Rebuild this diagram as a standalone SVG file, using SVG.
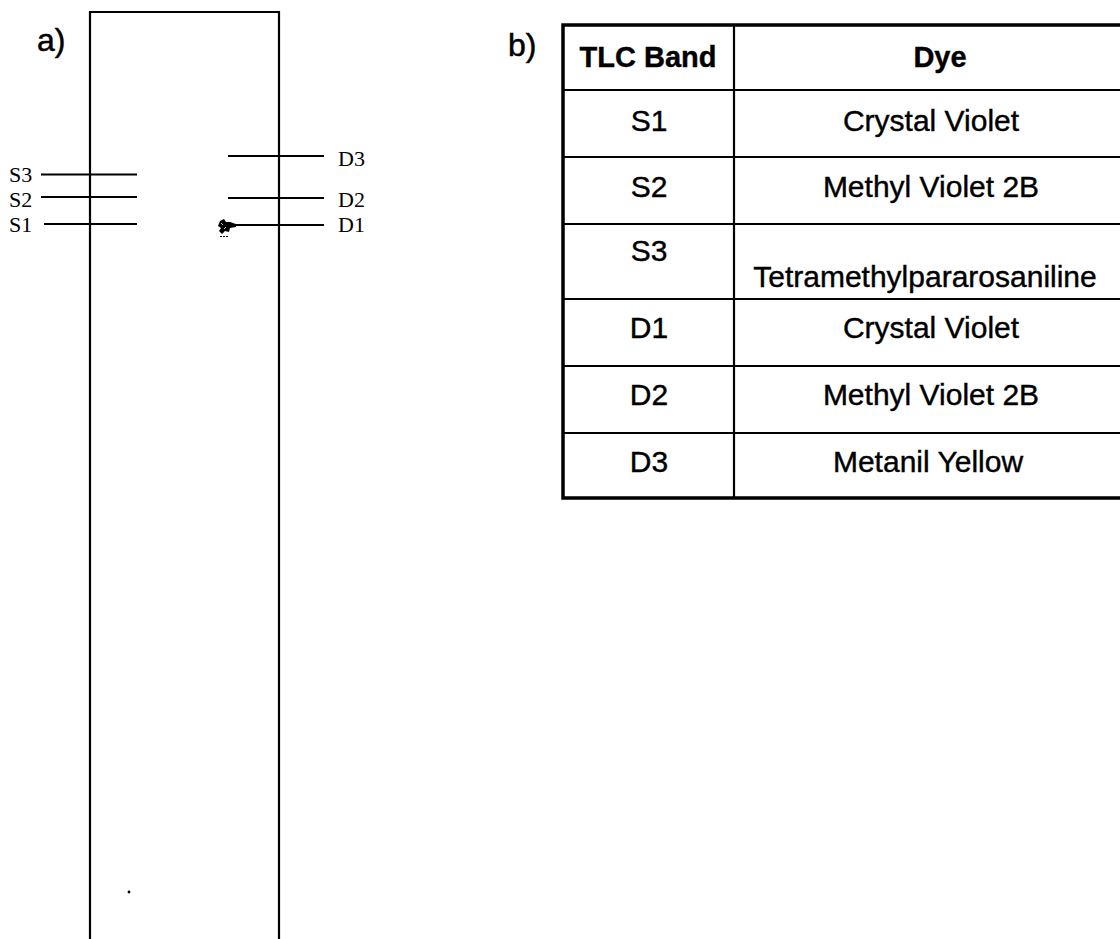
<svg xmlns="http://www.w3.org/2000/svg" width="1120" height="939" viewBox="0 0 1120 939">
<style>
.ln{stroke:#000;stroke-width:2.2;fill:none}
.thick{stroke:#000;stroke-width:3.5;fill:none}
.ser{font-family:"Liberation Serif","Times New Roman",serif;font-size:22px;fill:#000}
.sans{font-family:"Liberation Sans",Arial,sans-serif;fill:#000;stroke:#000;stroke-width:0.5}
.cell{font-family:"Liberation Sans",Arial,sans-serif;font-size:30px;fill:#000;text-anchor:middle;stroke:#000;stroke-width:0.4}
.hdr{font-family:"Liberation Sans",Arial,sans-serif;font-size:29px;font-weight:bold;fill:#000;text-anchor:middle;stroke:#000;stroke-width:0.4}
</style>
<rect width="1120" height="939" fill="#fff"/>
<g id="panel-a">
<text class="sans" x="37" y="51" font-size="32">a)</text>
<g id="plate">
<path class="ln" d="M90,939 V12 H279 V939"/>
<circle cx="129" cy="892" r="1.4" fill="#000"/>
</g>
<g id="connectors">
<line class="ln" x1="41" y1="174.5" x2="137" y2="174.5"/>
<line class="ln" x1="41" y1="197" x2="137" y2="197"/>
<line class="ln" x1="44" y1="224" x2="137" y2="224"/>
<line class="ln" x1="228" y1="156" x2="324" y2="156"/>
<line class="ln" x1="228" y1="198" x2="324" y2="198"/>
<line class="ln" x1="233" y1="225" x2="324" y2="225"/>
</g>
<g id="band-S3"><text class="ser" x="9" y="182">S3</text></g>
<g id="band-S2"><text class="ser" x="9" y="207">S2</text></g>
<g id="band-S1"><text class="ser" x="9" y="232">S1</text></g>
<g id="band-D3"><text class="ser" x="338" y="166">D3</text></g>
<g id="band-D2"><text class="ser" x="338" y="207">D2</text></g>
<g id="band-D1"><text class="ser" x="338" y="232">D1</text></g>
<g id="smudge">
<path d="M220,221 L224,219 L226,222 L230,222 L236,224 L236,227 L230,228 L229,232 L225,231 L222,234 L219,231 L221,228 L218,226 Z" fill="#000"/>
<path d="M221,223 L223,225 M224,229 L226,227" stroke="#fff" stroke-width="0.8"/>
<line x1="220" y1="236.5" x2="229" y2="236.5" stroke="#000" stroke-width="1" stroke-dasharray="2 1"/>
</g>
</g>
<g id="panel-b">
<text class="sans" x="508" y="56" font-size="32">b)</text>
<g id="table-grid">
<path class="thick" d="M1120,25 H563 V498 H1120"/>
<line class="ln" x1="734" y1="25" x2="734" y2="498"/>
<line class="ln" x1="563" y1="90" x2="1120" y2="90"/>
<line class="ln" x1="563" y1="157" x2="1120" y2="157"/>
<line class="ln" x1="563" y1="224" x2="1120" y2="224"/>
<line class="ln" x1="563" y1="299" x2="1120" y2="299"/>
<line class="ln" x1="563" y1="366" x2="1120" y2="366"/>
<line class="ln" x1="563" y1="433" x2="1120" y2="433"/>
</g>
<g id="row-header">
<text class="hdr" x="648" y="67">TLC Band</text>
<text class="hdr" x="940" y="67">Dye</text>
</g>
<g id="row-S1">
<text class="cell" x="649" y="131">S1</text>
<text class="cell" x="931" y="131">Crystal Violet</text>
</g>
<g id="row-S2">
<text class="cell" x="649" y="197">S2</text>
<text class="cell" x="931" y="197">Methyl Violet 2B</text>
</g>
<g id="row-S3">
<text class="cell" x="649" y="261">S3</text>
<text class="cell" x="925" y="287">Tetramethylpararosaniline</text>
</g>
<g id="row-D1">
<text class="cell" x="649" y="338">D1</text>
<text class="cell" x="931" y="338">Crystal Violet</text>
</g>
<g id="row-D2">
<text class="cell" x="649" y="405">D2</text>
<text class="cell" x="931" y="405">Methyl Violet 2B</text>
</g>
<g id="row-D3">
<text class="cell" x="649" y="472">D3</text>
<text class="cell" x="928" y="472">Metanil Yellow</text>
</g>
</g>
</svg>
